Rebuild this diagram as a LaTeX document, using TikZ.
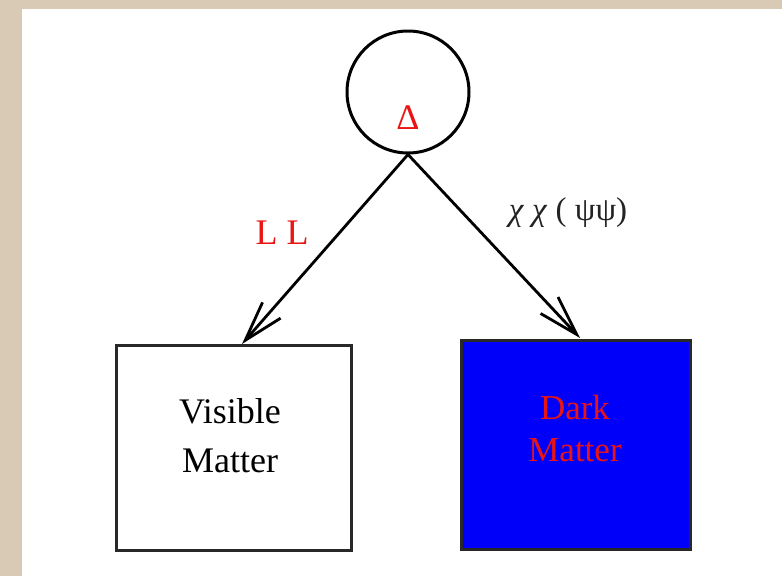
\documentclass[tikz,border=0pt]{standalone}
\usepackage{fontspec}
\setmainfont{Liberation Serif}
\usetikzlibrary{arrows.meta}
\definecolor{beige}{RGB}{216,202,180}
\definecolor{boxline}{RGB}{40,40,40}
\definecolor{myred}{RGB}{235,20,20}
\definecolor{myblue}{RGB}{0,0,250}
\definecolor{greek}{RGB}{35,35,35}
\tikzset{
  boxnode/.style={draw=boxline, line width=3pt, minimum width=#1, inner sep=0pt},
  arr/.style={line width=2.8pt, black, -{Straight Barb[length=40pt,width=24pt,line width=2.8pt]}},
  big/.style={font=\fontsize{36}{46}\selectfont, inner sep=0pt, align=center},
  mid/.style={font=\fontsize{33}{38}\selectfont, inner sep=0pt}
}
\begin{document}
\begin{tikzpicture}[x=1pt,y=-1pt]
\useasboundingbox (0,0) rectangle (782,576);
\fill[beige] (0,0) rectangle (782,576);
\fill[white] (22,9) rectangle (782,576);
% circle
\node[draw=black, line width=3pt, circle, minimum size=122pt, inner sep=0pt] (circ) at (408,92) {};
\node[big, text=myred] (delta) at (408,118) {Δ};
% boxes
\node[boxnode=235pt, minimum height=205pt] (vis) at (233.5,447.5) {};
\node[boxnode=229pt, minimum height=209pt, fill=myblue] (dark) at (575.5,444.5) {};
\node[big, text=black, font=\fontsize{36}{49}\selectfont] (vistext) at (230,436) {Visible\\Matter};
\node[big, text=myred, font=\fontsize{35}{42}\selectfont] (darktext) at (575,429) {Dark\\Matter};
% arrows
\coordinate (ltip) at (242,344);
\coordinate (rtip) at (580,338);
\draw[arr] (circ.south) -- (ltip);
\draw[arr] (circ.south) -- (rtip);
% labels
\node[big, text=myred] (ll) at (282,233) {L L};
\node[mid, text=greek] (chi) at (568,213) {\textit{χ} \textit{χ} ( ψψ)};
\end{tikzpicture}
\end{document}
